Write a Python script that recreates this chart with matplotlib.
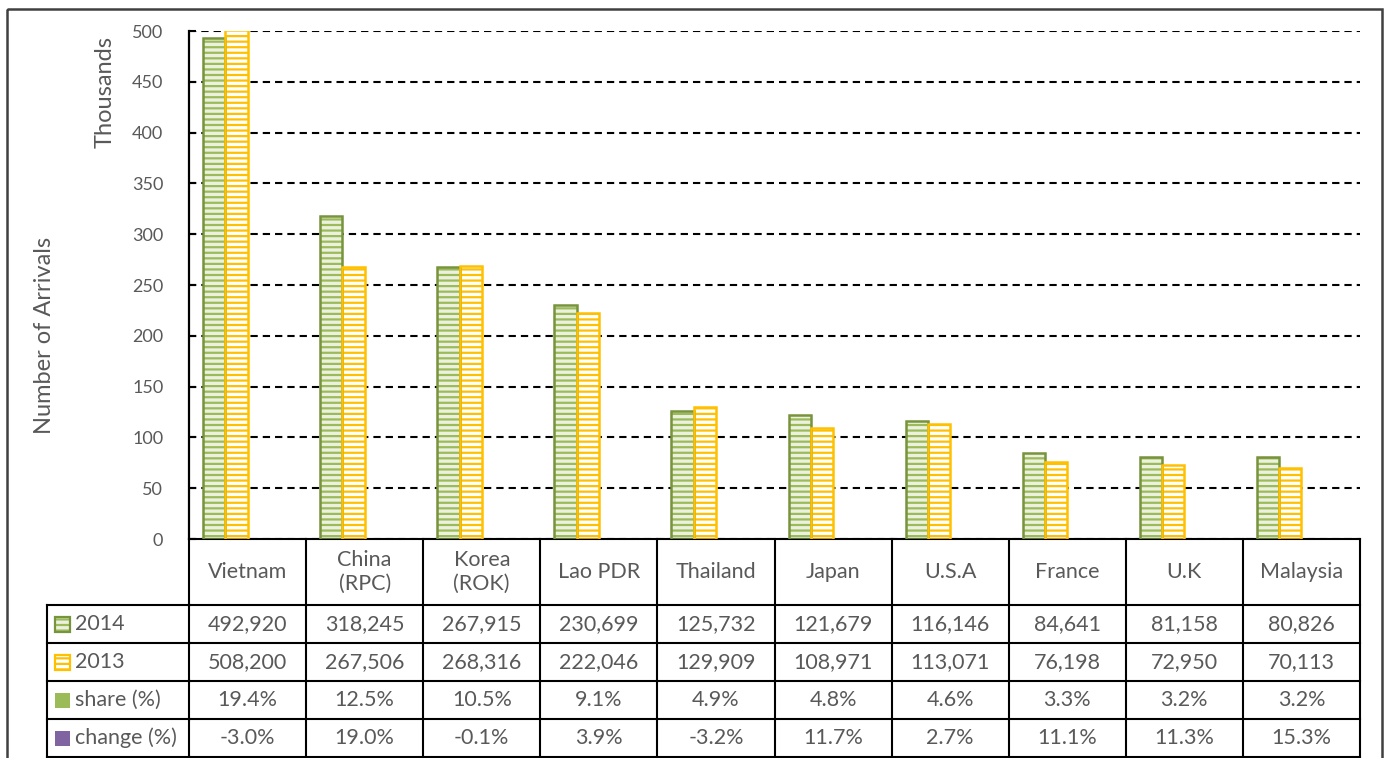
import matplotlib
matplotlib.use("Agg")
import matplotlib.pyplot as plt
from matplotlib.patches import Rectangle
from matplotlib.transforms import blended_transform_factory

plt.rcParams['font.family'] = ['Lato', 'DejaVu Sans']
plt.rcParams['hatch.linewidth'] = 1.6

# data
countries = ["Vietnam", "China\n(RPC)", "Korea\n(ROK)", "Lao PDR", "Thailand",
             "Japan", "U.S.A", "France", "U.K", "Malaysia"]
arrivals_2014 = [492920, 318245, 267915, 230699, 125732, 121679, 116146, 84641, 81158, 80826]
arrivals_2013 = [508200, 267506, 268316, 222046, 129909, 108971, 113071, 76198, 72950, 70113]
share_pct = [19.4, 12.5, 10.5, 9.1, 4.9, 4.8, 4.6, 3.3, 3.2, 3.2]
change_pct = [-3.0, 19.0, -0.1, 3.9, -3.2, 11.7, 2.7, 11.1, 11.3, 15.3]
y_ticks = [0, 50, 100, 150, 200, 250, 300, 350, 400, 450, 500]

GREEN_EDGE = '#77933C'
GREEN_HATCH = '#9BBB59'
GREEN_FACE = '#EBF1DE'
YELLOW = '#FFC000'
PURPLE = '#8064A2'
TEXT = '#595959'

W, H = 1386, 758
fig = plt.figure(figsize=(W / 100, H / 100), dpi=100)
ax = fig.add_axes([189 / W, 1 - 539 / H, 1171 / W, 508 / H])

x = list(range(len(countries)))
bw = 0.19
k2014 = [v / 1000 for v in arrivals_2014]
k2013 = [v / 1000 for v in arrivals_2013]
x14 = [i - 1.5 * bw for i in x]
x13 = [i - 0.5 * bw for i in x]

# hatched fill, then outline on top
ax.bar(x14, k2014, bw, color=GREEN_FACE, edgecolor=GREEN_HATCH, hatch='---', linewidth=0, zorder=2)
ax.bar(x14, k2014, bw, fill=False, edgecolor=GREEN_EDGE, linewidth=1.8, zorder=3)
ax.bar(x13, k2013, bw, color='white', edgecolor=YELLOW, hatch='---', linewidth=0, zorder=2)
ax.bar(x13, k2013, bw, fill=False, edgecolor=YELLOW, linewidth=1.8, zorder=3)

ax.set_xlim(-0.5, len(countries) - 0.5)
ax.set_ylim(0, 500)
ax.set_yticks(y_ticks)
ax.set_xticks([])
ax.yaxis.grid(True, linestyle=(0, (3.5, 2.4)), color='black', linewidth=1.5)
ax.set_axisbelow(True)
for s in ['top', 'right']:
    ax.spines[s].set_visible(False)
ax.spines['left'].set_linewidth(1.6)
ax.spines['bottom'].set_linewidth(1.5)
ax.tick_params(axis='y', direction='in', length=5, width=1.5, labelsize=13,
               labelcolor=TEXT, pad=18.5)
ax.patch.set_alpha(0)

# overlay in pixel coords for the data table and labels
ov = fig.add_axes([0, 0, 1, 1], zorder=5)
ov.set_xlim(0, W)
ov.set_ylim(H, 0)
ov.axis('off')
ov.patch.set_alpha(0)
tr = blended_transform_factory(ax.transData, ov.transData)

ov.add_patch(Rectangle((7, 9), 1375, 800, fill=False, edgecolor='#404040', linewidth=1.8))

ov.text(105, 92, 'Thousands', rotation=90, ha='center', va='center', fontsize=17, color=TEXT)
ov.text(45, 335, 'Number of Arrivals', rotation=90, ha='center', va='center', fontsize=17, color=TEXT)

row_tops = [539, 605, 643, 681, 719, 757]
n = len(countries)
lw = 1.5
# vertical lines
for i in range(n + 1):
    ov.plot([i - 0.5, i - 0.5], [row_tops[0], row_tops[-1]], color='black', lw=lw,
            transform=tr, solid_capstyle='projecting')
ov.plot([47, 47], [row_tops[1], row_tops[-1]], color='black', lw=lw, solid_capstyle='projecting')
# horizontal lines
for yy in row_tops[1:]:
    ov.plot([47, 190], [yy, yy], color='black', lw=lw, solid_capstyle='projecting')
    ov.plot([-0.5, n - 0.5], [yy, yy], color='black', lw=lw, transform=tr,
            solid_capstyle='projecting')

# header row
hc = (row_tops[0] + row_tops[1]) / 2
for i, c in enumerate(countries):
    ov.text(i, hc, c, ha='center', va='center', fontsize=15.5, color=TEXT,
            transform=tr, linespacing=1.25)

rows = [
    ('2014', [f"{v:,}" for v in arrivals_2014]),
    ('2013', [f"{v:,}" for v in arrivals_2013]),
    ('share (%)', [f"{v:.1f}%" for v in share_pct]),
    ('change (%)', [f"{v:.1f}%" for v in change_pct]),
]
for r, (label, vals) in enumerate(rows):
    cy = (row_tops[r + 1] + row_tops[r + 2]) / 2
    ov.text(75, cy, label, ha='left', va='center', fontsize=15.5, color=TEXT)
    for i, v in enumerate(vals):
        ov.text(i, cy, v, ha='center', va='center', fontsize=15.5, color=TEXT, transform=tr)

# legend keys
def key_y(r):
    return (row_tops[r + 1] + row_tops[r + 2]) / 2 - 7.5

ov.add_patch(Rectangle((55, key_y(0)), 15, 15, facecolor=GREEN_FACE, edgecolor=GREEN_HATCH,
                       hatch='---', linewidth=0))
ov.add_patch(Rectangle((55, key_y(0)), 15, 15, fill=False, edgecolor=GREEN_EDGE, linewidth=1.6))
ov.add_patch(Rectangle((55, key_y(1)), 15, 15, facecolor='white', edgecolor=YELLOW,
                       hatch='---', linewidth=0))
ov.add_patch(Rectangle((55, key_y(1)), 15, 15, fill=False, edgecolor=YELLOW, linewidth=1.6))
ov.add_patch(Rectangle((55, key_y(2)), 15, 15, facecolor=GREEN_HATCH, linewidth=0))
ov.add_patch(Rectangle((55, key_y(3)), 15, 15, facecolor=PURPLE, linewidth=0))

fig.savefig('out.png', dpi=100)
